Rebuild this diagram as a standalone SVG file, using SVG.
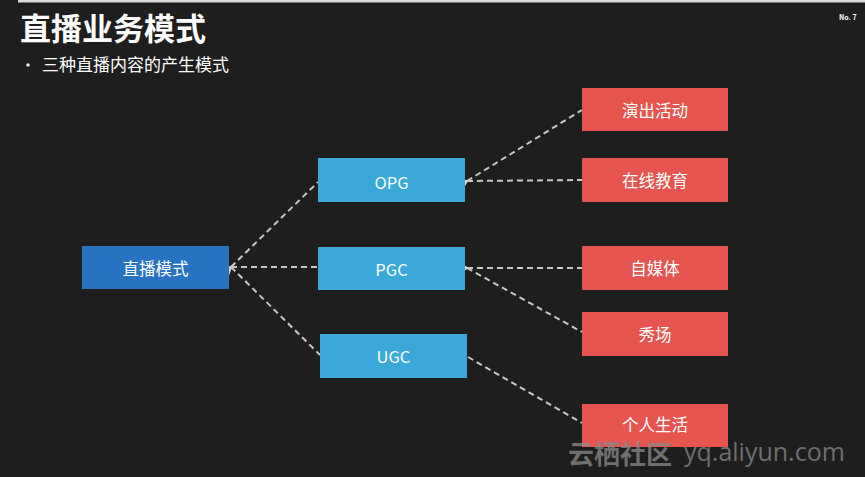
<svg xmlns="http://www.w3.org/2000/svg" width="865" height="477" viewBox="0 0 865 477">
<defs>
<style>
.t{font-family:"Noto Sans CJK SC","Noto Sans",sans-serif;fill:#ffffff;}
.lbl{font-size:16.5px;text-anchor:middle;dominant-baseline:central;}
.root{fill:#2872c2;}
.mid{fill:#3aa9d9;}
.leaf{fill:#e5544f;}
.c{stroke:#c8c8c8;stroke-width:2;stroke-dasharray:6 4;fill:none;}
</style>
<marker id="ah" viewBox="0 0 8 8" refX="1" refY="4" markerWidth="6" markerHeight="6" orient="auto-start-reverse">
<path d="M7,1 L1,4 L7,7" fill="none" stroke="#d8d8d8" stroke-width="1.4"/>
</marker>
</defs>
<rect width="865" height="477" fill="#1e1e1e"/>
<rect x="18" y="0" width="847" height="2.5" fill="#d9d9d9"/>
<text class="t" x="20" y="40" font-size="31" font-weight="bold">直播业务模式</text>
<circle cx="28" cy="65" r="1.8" fill="#e8e8e8"/>
<text class="t" x="42" y="71" font-size="17" fill="#e8e8e8">三种直播内容的产生模式</text>
<text class="t" x="839" y="20" font-size="7" font-weight="bold" fill="#cfd6e6">No. 7</text>

<g id="connectors">
<line class="c" x1="231" y1="267" x2="318" y2="182" marker-start="url(#ah)"/>
<line class="c" x1="231" y1="267" x2="318" y2="267"/>
<line class="c" x1="231" y1="267" x2="320" y2="355"/>
<line class="c" x1="467" y1="181" x2="582" y2="110" marker-start="url(#ah)"/>
<line class="c" x1="467" y1="181" x2="582" y2="180"/>
<line class="c" x1="467" y1="268" x2="582" y2="268" marker-start="url(#ah)"/>
<line class="c" x1="467" y1="268" x2="582" y2="332"/>
<line class="c" x1="468" y1="357" x2="582" y2="423"/>
</g>

<g id="n-root"><rect class="root" x="82" y="246" width="147" height="43"/><text class="t lbl" x="155.5" y="267.5">直播模式</text></g>
<g id="n-opg"><rect class="mid" x="318" y="158" width="147" height="44"/><text class="t lbl" x="391.5" y="182">OPG</text></g>
<g id="n-pgc"><rect class="mid" x="318" y="247" width="147" height="43"/><text class="t lbl" x="391.5" y="268.5">PGC</text></g>
<g id="n-ugc"><rect class="mid" x="320" y="334" width="147" height="44"/><text class="t lbl" x="393.5" y="356">UGC</text></g>
<g id="n-yanchu"><rect class="leaf" x="582" y="88" width="146" height="43"/><text class="t lbl" x="655" y="109.5">演出活动</text></g>
<g id="n-jiaoyu"><rect class="leaf" x="582" y="158" width="146" height="44"/><text class="t lbl" x="655" y="180">在线教育</text></g>
<g id="n-zimeiti"><rect class="leaf" x="582" y="246" width="146" height="44"/><text class="t lbl" x="655" y="268">自媒体</text></g>
<g id="n-xiuchang"><rect class="leaf" x="582" y="312" width="146" height="44"/><text class="t lbl" x="655" y="334">秀场</text></g>
<g id="n-shenghuo"><rect class="leaf" x="582" y="404" width="146" height="43"/><text class="t lbl" x="655" y="424">个人生活</text></g>

<text x="568" y="464" font-family="&quot;Noto Sans CJK SC&quot;,sans-serif" font-size="26" font-weight="bold" fill="#8a8a8a" fill-opacity="0.75">云栖社区</text>
<text x="684" y="461" font-family="&quot;Open Sans&quot;,sans-serif" font-size="25" fill="#8a8a8a" fill-opacity="0.75">yq.aliyun.com</text>
</svg>
